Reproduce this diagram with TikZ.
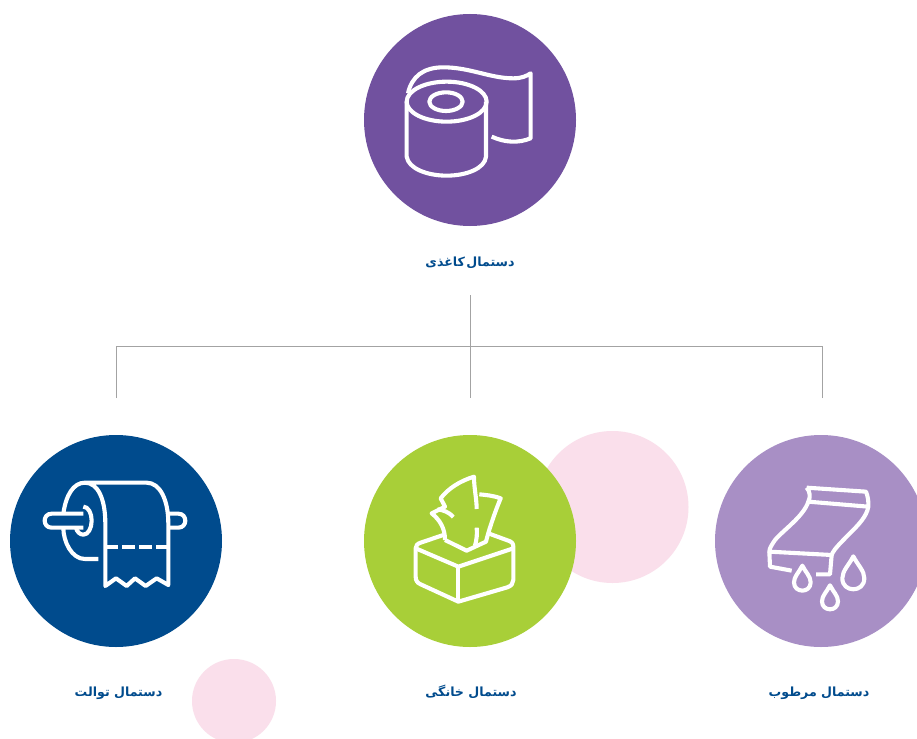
\documentclass[tikz,border=0pt]{standalone}
\usepackage{fontspec}
\TeXXeTstate=1
\newfontfamily\arabicfont[Script=Arabic]{DejaVu Sans}
\definecolor{rollpurple}{HTML}{71519F}
\definecolor{navyblue}{HTML}{004B8D}
\definecolor{limegreen}{HTML}{A8CF38}
\definecolor{softpurple}{HTML}{A88FC5}
\definecolor{softpink}{HTML}{FADFEB}
\definecolor{linegray}{HTML}{A3A3A3}
\tikzset{
  disc/.style={circle,inner sep=0pt,minimum size=212pt,draw=none},
  blob/.style={circle,inner sep=0pt,fill=softpink,draw=none},
  caption/.style={inner sep=0pt,anchor=base,text=navyblue,font=\arabicfont\bfseries\fontsize{12.6}{15}\selectfont},
  tree/.style={draw=linegray,line width=1pt},
  icon/.style={draw=white,line width=4.1pt,line join=round,fill=none},
}
\newcommand{\tear}[3]{% cx cy r (tip above by 2r)
  \draw[icon] (#1,#2-2*#3) .. controls (#1-0.4*#3,#2-1.2*#3) and (#1-#3,#2-0.7*#3) .. (#1-#3,#2)
   .. controls (#1-#3,#2+1.33*#3) and (#1+#3,#2+1.33*#3) .. (#1+#3,#2)
   .. controls (#1+#3,#2-0.7*#3) and (#1+0.4*#3,#2-1.2*#3) .. cycle;}
\begin{document}
\begin{tikzpicture}[x=1pt,y=-1pt]
\useasboundingbox (0,0) rectangle (917,738);
\clip (0,0) rectangle (917,738);
\fill[white] (0,0) rectangle (917,738);
% pink blobs
\node[blob,minimum size=152pt] (blobmid) at (612.5,507) {};
\node[blob,minimum size=84pt] (blobleft) at (234,701) {};
% discs
\node[disc,fill=rollpurple] (paper) at (470,120) {};
\node[disc,fill=navyblue] (toilet) at (116,541) {};
\node[disc,fill=limegreen] (house) at (470,541) {};
\node[disc,fill=softpurple] (wet) at (821,541) {};
% captions
\node[caption] (paperlabel) at (470,266) {\spaceskip=1.5pt\beginR دستمال کاغذی\endR};
\node[caption] (toiletlabel) at (118.5,696) {\beginR دستمال توالت\endR};
\node[caption] (houselabel) at (471,696) {\beginR دستمال خانگی\endR};
\node[caption] (wetlabel) at (819,696) {\beginR دستمال مرطوب\endR};
% tree
\coordinate (trunk) at (470.5,295);
\coordinate (hub) at (470.5,346.5);
\coordinate (dropl) at (116.5,398);
\coordinate (dropm) at (470.5,398);
\coordinate (dropr) at (822,398);
\draw[tree] (trunk) -- (hub) -- (dropm);
\draw[tree] (dropl) |- (hub);
\draw[tree] (dropr) |- (hub);
% roll icon
\begin{scope}[shift={(380,40)},x=0.3333pt,y=-0.3333pt]
\draw[icon] (200,185) ellipse[x radius=120,y radius=60];
\draw[icon] (198,185) ellipse[x radius=50,y radius=28];
\draw[icon] (80,185) -- (80,350) .. controls (85,385) and (140,407) .. (200,407)
  .. controls (260,407) and (315,385) .. (318,350) -- (318,185);
\draw[icon] (84,160) .. controls (95,110) and (130,82) .. (190,82)
  .. controls (270,82) and (330,115) .. (400,115)
  .. controls (425,115) and (440,108) .. (452,100) -- (452,295)
  .. controls (415,310) and (375,308) .. (335,290);
\end{scope}
% toilet roll icon
\begin{scope}[shift={(30,470)},x=0.3333pt,y=-0.3333pt]
\draw[icon] (205,267) -- (165,267) .. controls (125,267) and (100,215) .. (100,173);
\draw[icon] (100,131) .. controls (108,75) and (130,38) .. (165,38) -- (350,38)
  .. controls (390,38) and (415,90) .. (415,160) -- (415,345)
  -- (380,325) -- (347,348) -- (315,325) -- (290,348) -- (258,325) -- (226,348) -- (226,160)
  .. controls (226,90) and (205,38) .. (165,38);
\draw[icon] (160,110) .. controls (175,110) and (185,130) .. (185,152)
  .. controls (185,174) and (175,194) .. (160,194) .. controls (150,194) and (140,185) .. (138,173);
\draw[icon] (160,173) -- (65,173) .. controls (37,173) and (37,131) .. (65,131) -- (160,131);
\draw[icon] (415,131) -- (445,131) .. controls (473,131) and (473,173) .. (445,173) -- (415,173);
\draw[icon,line cap=butt] (226,232) -- (264,232);
\draw[icon,line cap=butt] (276,232) -- (316,232);
\draw[icon,line cap=butt] (328,232) -- (366,232);
\draw[icon,line cap=butt] (378,232) -- (415,232);
\end{scope}
% tissue box icon
\begin{scope}[shift={(400,465)},x=0.3333pt,y=-0.3333pt]
\draw[icon] (130,210) -- (62,233) .. controls (52,236) and (47,242) .. (47,250) -- (47,335)
  .. controls (47,347) and (52,354) .. (62,358) -- (175,410) -- (322,367)
  .. controls (334,363) and (340,355) .. (340,345) -- (340,245)
  .. controls (340,235) and (335,230) .. (325,227) -- (265,205);
\draw[icon] (47,250) -- (175,305) -- (340,250);
\draw[icon] (175,305) -- (175,410);
\draw[icon] (135,225) -- (200,257) -- (258,230)
  .. controls (265,200) and (285,140) .. (302,100) .. controls (280,92) and (260,90) .. (238,88);
\draw[icon] (135,225) .. controls (135,190) and (120,165) .. (95,145) -- (135,125)
  -- (122,100) .. controls (145,70) and (180,48) .. (222,35) .. controls (222,70) and (230,100) .. (230,132);
\draw[icon] (112,133) .. controls (130,135) and (148,142) .. (160,156);
\draw[icon] (230,188) .. controls (232,205) and (230,225) .. (225,242);
\end{scope}
% wet wipe icon
\begin{scope}[shift={(750,475)},x=0.3333pt,y=-0.3333pt]
\draw[icon] (170,38) -- (348,50) .. controls (354,65) and (356,80) .. (355,95) -- (175,80)
  .. controls (182,65) and (180,50) .. (170,38);
\draw[icon] (175,80) .. controls (160,125) and (100,165) .. (75,195)
  .. controls (65,210) and (58,220) .. (58,230) -- (245,240)
  .. controls (250,225) and (270,205) .. (295,180) .. controls (325,150) and (350,125) .. (355,95);
\draw[icon] (58,230) -- (60,275) -- (125,287);
\draw[icon] (245,240) -- (240,298) -- (198,298);
\tear{157}{322}{25}
\tear{240}{379}{24}
\tear{310}{310}{33}
\end{scope}
\end{tikzpicture}
\end{document}
